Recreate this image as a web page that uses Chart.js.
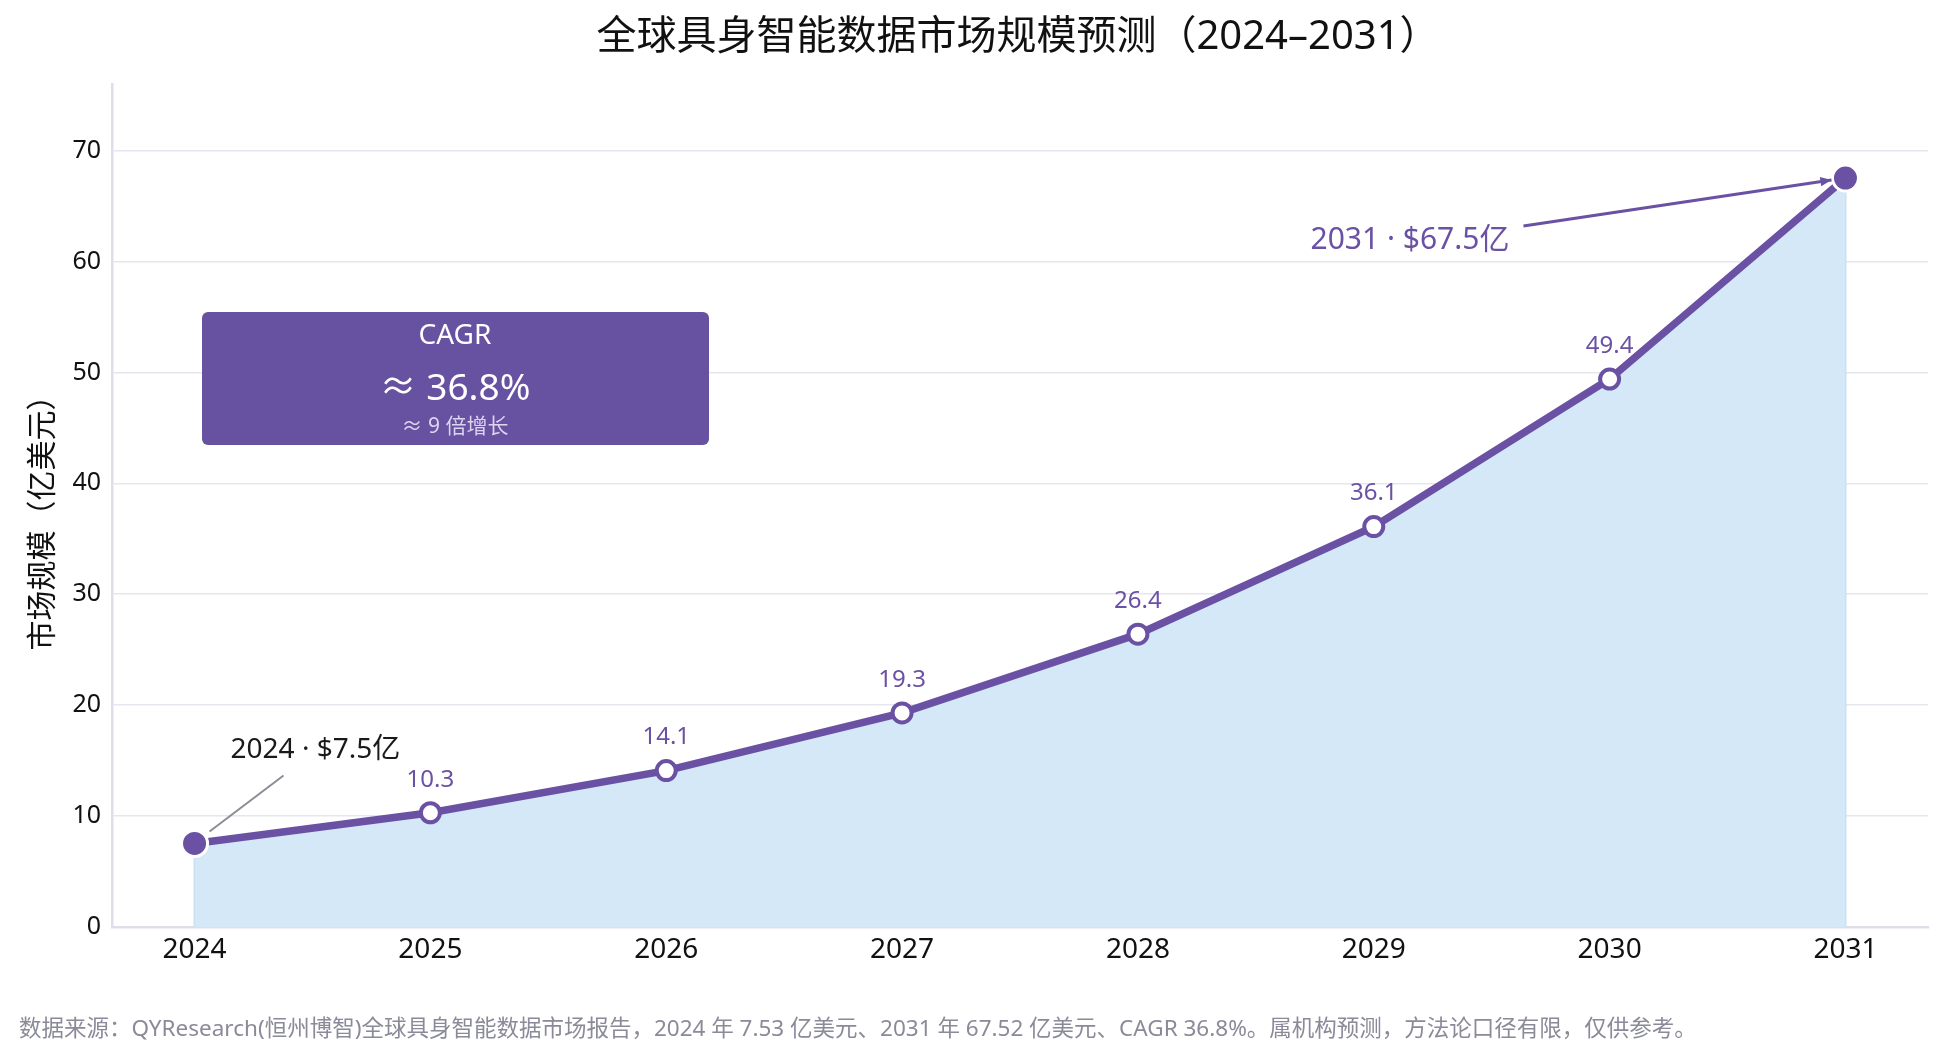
<!DOCTYPE html>
<html>
<head>
<meta charset="utf-8">
<script src="https://cdn.jsdelivr.net/npm/chart.js@4"></script>
<style>
  html, body { margin: 0; padding: 0; background: #fff; }
  #wrap { width: 1946px; height: 1060px; position: relative; }
</style>
</head>
<body>
<div id="wrap"><canvas id="marketChart"></canvas></div>
<script>
// chart data
const years = ["2024", "2025", "2026", "2027", "2028", "2029", "2030", "2031"];
const marketSize = [7.53, 10.3, 14.1, 19.3, 26.4, 36.1, 49.4, 67.52];
const yTicks = [0, 10, 20, 30, 40, 50, 60, 70];

const chartTitle = "全球具身智能数据市场规模预测（2024–2031）";
const yLabel = "市场规模（亿美元）";
const footNote = "数据来源：QYResearch(恒州博智)全球具身智能数据市场报告，2024 年 7.53 亿美元、2031 年 67.52 亿美元、CAGR 36.8%。属机构预测，方法论口径有限，仅供参考。";

const PURPLE = "#6a51a3";
const FONT = "'Noto Sans', 'Noto Sans CJK SC', sans-serif";

const last = marketSize.length - 1;
const cagr = Math.pow(marketSize[last] / marketSize[0], 1 / last) - 1;
const growth = Math.round(marketSize[last] / marketSize[0]);

// draws title, labels, annotations and the CAGR box
const decorPlugin = {
  id: "decor",
  afterDatasetsDraw(chart) {
    const ctx = chart.ctx;
    const xs = chart.scales.x;
    const ys = chart.scales.y;
    const px = i => xs.getPixelForValue(i);
    const py = v => ys.getPixelForValue(v);
    ctx.save();

    const x0 = px(0), y0 = py(marketSize[0]);
    const x1 = px(last), y1 = py(marketSize[last]);

    // value labels above the hollow points
    ctx.font = "24px " + FONT;
    ctx.fillStyle = PURPLE;
    ctx.textAlign = "center";
    ctx.textBaseline = "middle";
    for (let i = 1; i < last; i++) {
      ctx.fillText(marketSize[i].toFixed(1), px(i), py(marketSize[i]) - 33);
    }

    // 2024 callout
    ctx.strokeStyle = "#8c8c96";
    ctx.lineWidth = 2;
    ctx.beginPath();
    ctx.moveTo(x0 + 15, y0 - 12);
    ctx.lineTo(x0 + 89, y0 - 68);
    ctx.stroke();
    ctx.font = "28px " + FONT;
    ctx.fillStyle = "#1a1a1a";
    ctx.textAlign = "left";
    ctx.fillText(years[0] + " · $" + marketSize[0].toFixed(1) + "亿", x0 + 36, y0 - 93);

    // 2031 callout with arrow
    const sx = x1 - 322, sy = y1 + 48;
    const ex = x1 - 14, ey = y1 + 2;
    ctx.strokeStyle = PURPLE;
    ctx.lineWidth = 3;
    ctx.beginPath();
    ctx.moveTo(sx, sy);
    ctx.lineTo(ex, ey);
    ctx.stroke();
    const ang = Math.atan2(ey - sy, ex - sx);
    ctx.fillStyle = PURPLE;
    ctx.beginPath();
    ctx.moveTo(ex, ey);
    ctx.lineTo(ex - 12 * Math.cos(ang - 0.4), ey - 12 * Math.sin(ang - 0.4));
    ctx.lineTo(ex - 12 * Math.cos(ang + 0.4), ey - 12 * Math.sin(ang + 0.4));
    ctx.closePath();
    ctx.fill();
    ctx.font = "30px " + FONT;
    ctx.textAlign = "right";
    ctx.fillText(years[last] + " · $" + marketSize[last].toFixed(1) + "亿", x1 - 336, y1 + 62);

    ctx.restore();
  },
  beforeDatasetsDraw(chart) {
    // thin edges at both ends of the filled area
    const ctx = chart.ctx;
    const xs = chart.scales.x;
    const ys = chart.scales.y;
    ctx.save();
    ctx.strokeStyle = "#c4def3";
    ctx.lineWidth = 2;
    [0, last].forEach(i => {
      ctx.beginPath();
      ctx.moveTo(xs.getPixelForValue(i), ys.getPixelForValue(0));
      ctx.lineTo(xs.getPixelForValue(i), ys.getPixelForValue(marketSize[i]));
      ctx.stroke();
    });
    ctx.restore();
  },
  afterDraw(chart) {
    const ctx = chart.ctx;
    const area = chart.chartArea;
    ctx.save();

    // title
    ctx.font = "40px " + FONT;
    ctx.fillStyle = "#111";
    ctx.textAlign = "center";
    ctx.textBaseline = "middle";
    ctx.fillText(chartTitle, 1018, 38);

    // y axis label
    ctx.save();
    ctx.translate(43, (area.top + area.bottom) / 2 + 10);
    ctx.rotate(-Math.PI / 2);
    ctx.font = "30px " + FONT;
    ctx.fillStyle = "#111";
    ctx.fillText(yLabel, 0, 0);
    ctx.restore();

    // CAGR box
    ctx.fillStyle = "#6751a1";
    ctx.beginPath();
    ctx.roundRect(202, 312, 507, 133, 6);
    ctx.fill();
    ctx.fillStyle = "#fff";
    ctx.font = "28px " + FONT;
    ctx.fillText("CAGR", 455, 336);
    ctx.font = "37px " + FONT;
    ctx.fillText("≈ " + (cagr * 100).toFixed(1) + "%", 455, 389);
    ctx.font = "21px " + FONT;
    ctx.fillStyle = "#ddd5ef";
    ctx.fillText("≈ " + growth + " 倍增长", 455, 427);

    // footnote
    ctx.font = "22.5px " + FONT;
    ctx.fillStyle = "#8a8a99";
    ctx.textAlign = "left";
    ctx.fillText(footNote, 19, 1030);

    ctx.restore();
  }
};

const ctx = document.getElementById("marketChart").getContext("2d");
new Chart(ctx, {
  type: "line",
  data: {
    datasets: [{
      data: marketSize.map((v, i) => ({ x: i, y: v })),
      borderColor: PURPLE,
      borderWidth: 7.5,
      tension: 0,
      fill: "origin",
      backgroundColor: "#d4e8f7",
      pointRadius: marketSize.map((v, i) => (i === 0 || i === last) ? 13 : 9.5),
      pointBackgroundColor: marketSize.map((v, i) => (i === 0 || i === last) ? PURPLE : "#fff"),
      pointBorderColor: marketSize.map((v, i) => (i === 0 || i === last) ? "#fff" : PURPLE),
      pointBorderWidth: marketSize.map((v, i) => (i === 0 || i === last) ? 3 : 4),
      clip: false
    }]
  },
  options: {
    responsive: true,
    maintainAspectRatio: false,
    animation: false,
    layout: { padding: { top: 84, right: 18, left: 0, bottom: 0 } },
    plugins: {
      legend: { display: false },
      tooltip: { enabled: false }
    },
    scales: {
      x: {
        type: "linear",
        min: -0.35,
        max: 7.35,
        afterBuildTicks: s => { s.ticks = years.map((y, i) => ({ value: i })); },
        afterFit: s => { s.height = 133; },
        ticks: {
          callback: v => years[v],
          font: { family: FONT, size: 28 },
          color: "#111",
          padding: 6,
          maxRotation: 0
        },
        grid: { display: false, drawTicks: false },
        border: { display: true, color: "#dedde9", width: 2.5 }
      },
      y: {
        min: 0,
        max: 76,
        afterBuildTicks: s => { s.ticks = yTicks.map(v => ({ value: v })); },
        afterFit: s => { s.width = 112; },
        ticks: {
          font: { family: FONT, size: 25 },
          color: "#111",
          padding: 11
        },
        grid: { color: "#e6e6ef", lineWidth: 1.5, drawTicks: false },
        border: { display: true, color: "#dedde9", width: 2.5 }
      }
    }
  },
  plugins: [decorPlugin]
});
</script>
</body>
</html>
